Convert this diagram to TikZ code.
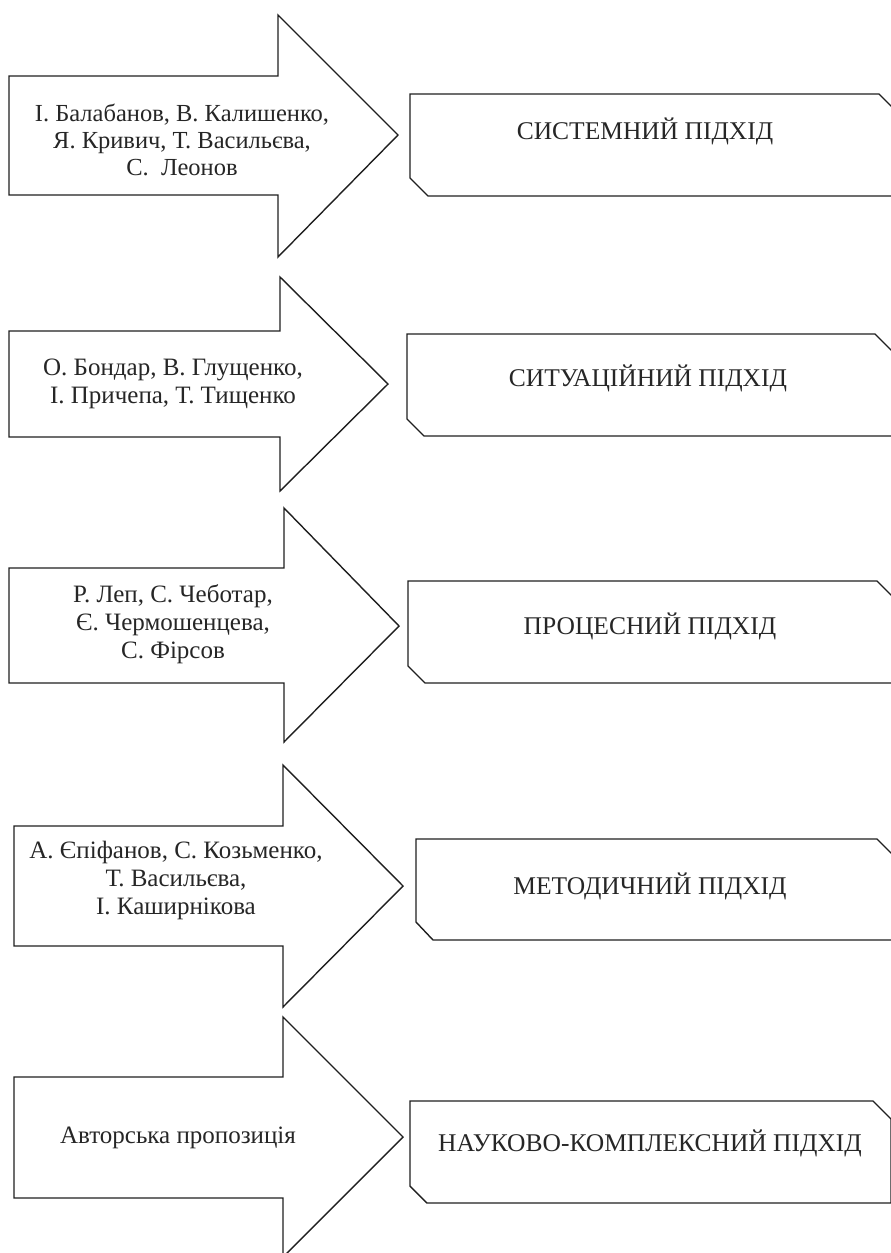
\documentclass[tikz,border=0pt]{standalone}
\usepackage{fontspec}
\setmainfont{Liberation Serif}
\begin{document}
\begin{tikzpicture}[x=1pt,y=-1pt,
  shp/.style={draw=black!88, line width=1.4pt, line join=miter, fill=white},
  atext/.style={align=center, font=\fontsize{25}{28}\selectfont, inner sep=0pt, text=black!85},
  btext/.style={align=center, font=\fontsize{25.5}{28}\selectfont, inner sep=0pt, text=black!85}]
\useasboundingbox (0,0) rectangle (891,1253);
\clip (0,0) rectangle (891,1253);
% arrows
\draw[shp] (9,76) -- (278,76) -- (278,15) -- (398,135) -- (278,257) -- (278,195) -- (9,195) -- cycle;
\draw[shp] (9,331) -- (280,331) -- (280,277) -- (388,384) -- (280,491) -- (280,437) -- (9,437) -- cycle;
\draw[shp] (9,568) -- (284,568) -- (284,508) -- (399,626) -- (284,742) -- (284,683) -- (9,683) -- cycle;
\draw[shp] (14,826) -- (283,826) -- (283,765) -- (403,886) -- (283,1007) -- (283,946) -- (14,946) -- cycle;
\draw[shp] (14,1077) -- (283,1077) -- (283,1017) -- (403,1137) -- (283,1257) -- (283,1198) -- (14,1198) -- cycle;
% boxes
\draw[shp] (410,94) -- (879,94) -- (897,112) -- (897,196) -- (428,196) -- (410,178) -- cycle;
\draw[shp] (407,334) -- (875,334) -- (893,352) -- (893,436) -- (424,436) -- (407,419) -- cycle;
\draw[shp] (408,581) -- (877,581) -- (895,599) -- (895,683) -- (425,683) -- (408,666) -- cycle;
\draw[shp] (416,839) -- (877,839) -- (895,857) -- (895,940) -- (433,940) -- (416,922) -- cycle;
\draw[shp] (410,1101) -- (873,1101) -- (891,1119) -- (891,1203) -- (427,1203) -- (410,1186) -- cycle;
% arrow texts
\node[atext, font=\fontsize{24.5}{27}\selectfont] (a1) at (182,140) {І. Балабанов, В. Калишенко,\\Я. Кривич, Т. Васильєва,\\С.\ \ Леонов};
\node[atext] (a2) at (173,384) {О. Бондар, В. Глущенко,\\І. Причепа, Т. Тищенко};
\node[atext] (a3) at (173,624) {Р. Леп, С. Чеботар,\\Є. Чермошенцева,\\С. Фірсов};
\node[atext] (a4) at (176,880) {А. Єпіфанов, С. Козьменко,\\Т. Васильєва,\\І. Каширнікова};
\node[atext] (a5) at (178,1138) {Авторська пропозиція};
% box texts
\node[btext] (b1) at (645,131) {СИСТЕМНИЙ ПІДХІД};
\node[btext] (b2) at (648,378) {СИТУАЦІЙНИЙ ПІДХІД};
\node[btext] (b3) at (650,626) {ПРОЦЕСНИЙ ПІДХІД};
\node[btext] (b4) at (650,886) {МЕТОДИЧНИЙ ПІДХІД};
\node[btext] (b5) at (650,1143) {НАУКОВО-КОМПЛЕКСНИЙ ПІДХІД};
\end{tikzpicture}
\end{document}
